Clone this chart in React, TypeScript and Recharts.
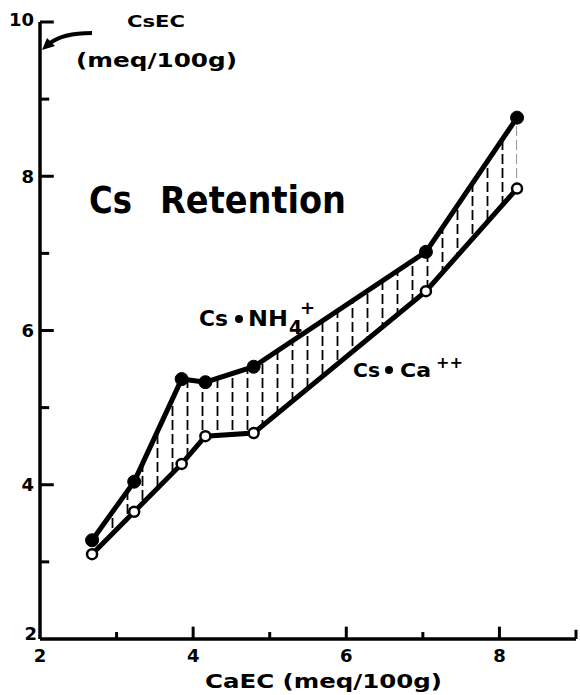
import React from 'react';
import { ComposedChart, Line, Area, XAxis, YAxis, ReferenceLine } from 'recharts';

// CaEC values (meq/100g), shared by both series
const caec = [2.68, 3.23, 3.85, 4.16, 4.79, 7.04, 8.23];
// CsEC with NH4+ as complementary ion (filled dots)
const csNH4 = [3.28, 4.04, 5.37, 5.33, 5.53, 7.02, 8.76];
// CsEC with Ca++ as complementary ion (open dots)
const csCa = [3.1, 3.65, 4.27, 4.63, 4.67, 6.51, 7.84];

const xTicks = [2, 3, 4, 5, 6, 7, 8, 9];
const xLabels = [2, 4, 6, 8];
const yTicks = [2, 3, 4, 5, 6, 7, 8, 9, 10];
const yLabels = [2, 4, 6, 8, 10];

const data = caec.map((x, i) => ({
  x,
  nh4: csNH4[i],
  ca: csCa[i],
  band: [csCa[i], csNH4[i]],
}));

const W = 580;
const H = 695;
const FONT = '"DejaVu Sans", sans-serif';
// inward tick lengths, in axis units (x: ~76 px/unit, y: ~77 px/unit)
const xTickLen = (v: number) => (v % 2 === 0 ? 0.16 : v === 9 ? 0.12 : 0.09);
const yTickLen = (v: number) => (v % 2 === 0 ? 0.18 : 0.12);

const XTick = (props: any) => {
  const { x, payload } = props;
  const v = payload.value;
  if (!xLabels.includes(v)) return <g />;
  return (
    <text x={x} y={662} textAnchor="middle" fontFamily={FONT} fontWeight="bold" fontSize={18} fill="#000">
      {v}
    </text>
  );
};

const YTick = (props: any) => {
  const { y, payload } = props;
  const v = payload.value;
  if (!yLabels.includes(v)) return <g />;
  const dy = v === 2 ? -6 : v === 10 ? -3 : 0;
  return (
    <text x={v === 2 ? 37 : 34} y={y + dy} textAnchor="end" dominantBaseline="central" fontFamily={FONT} fontWeight="bold" fontSize={18} fill="#000">
      {v}
    </text>
  );
};

const txt = { fontFamily: FONT, fontWeight: 'bold', fill: '#000' } as const;

export default function App() {
  return (
    <div style={{ position: 'absolute', left: 0, top: 0, width: W, height: H, background: '#fff' }}>
      <ComposedChart width={W} height={H} data={data} margin={{ top: 22, right: 4, left: 0, bottom: 26 }}>
        <defs>
          <pattern id="hatch" patternUnits="userSpaceOnUse" width={15} height={14}>
            <line x1={7.5} y1={0} x2={7.5} y2={10} stroke="#000" strokeWidth={1.8} />
          </pattern>
        </defs>
        <XAxis
          dataKey="x"
          type="number"
          domain={[2, 9]}
          ticks={xTicks}
          height={30}
          axisLine={{ stroke: '#000', strokeWidth: 3.5 }}
          tickLine={false}
          tick={(p: any) => <XTick {...p} />}
          interval={0}
        />
        <YAxis
          type="number"
          domain={[2, 10]}
          ticks={yTicks}
          width={40}
          axisLine={{ stroke: '#000', strokeWidth: 3.5 }}
          tickLine={false}
          tick={(p: any) => <YTick {...p} />}
          interval={0}
        />
        {xTicks.filter((v) => v > 2).map((v) => (
          <ReferenceLine key={'xt' + v} segment={[{ x: v, y: 2 }, { x: v, y: 2 + xTickLen(v) }]} stroke="#000" strokeWidth={3} ifOverflow="visible" />
        ))}
        {yTicks.filter((v) => v > 2).map((v) => (
          <ReferenceLine key={'yt' + v} segment={[{ x: 2, y: v }, { x: 2 + yTickLen(v), y: v }]} stroke="#000" strokeWidth={3} ifOverflow="visible" />
        ))}
        <Area dataKey="band" type="linear" stroke="none" fill="url(#hatch)" fillOpacity={1} isAnimationActive={false} />
        <Line
          dataKey="ca"
          type="linear"
          stroke="#000"
          strokeWidth={5}
          dot={{ r: 5, fill: '#fff', stroke: '#000', strokeWidth: 2.5 }}
          isAnimationActive={false}
        />
        <Line
          dataKey="nh4"
          type="linear"
          stroke="#000"
          strokeWidth={5}
          dot={{ r: 6.5, fill: '#000', stroke: '#000', strokeWidth: 1 }}
          isAnimationActive={false}
        />
      </ComposedChart>
      <svg width={W} height={H} style={{ position: 'absolute', left: 0, top: 0, pointerEvents: 'none' }}>
        <text x={127} y={27} fontSize={16} textLength={58} lengthAdjust="spacingAndGlyphs" {...txt}>CsEC</text>
        <text x={76} y={67} fontSize={20} textLength={161} lengthAdjust="spacingAndGlyphs" {...txt}>(meq/100g)</text>
        <path d="M92 33 Q62 33 49 44" fill="none" stroke="#000" strokeWidth={4} />
        <polygon points="42,50 47,38 55,46" fill="#000" />
        <text x={89} y={213} fontSize={37} textLength={43} lengthAdjust="spacingAndGlyphs" {...txt}>Cs</text>
        <text x={160} y={213} fontSize={37} textLength={186} lengthAdjust="spacingAndGlyphs" {...txt}>Retention</text>
        <text x={199} y={326} fontSize={21} textLength={29} lengthAdjust="spacingAndGlyphs" {...txt}>Cs</text>
        <circle cx={239} cy={319} r={4} fill="#000" />
        <text x={248} y={326} fontSize={21} textLength={40} lengthAdjust="spacingAndGlyphs" {...txt}>NH</text>
        <text x={289} y={334} fontSize={19} {...txt}>4</text>
        <text x={300} y={314} fontSize={18} {...txt}>+</text>
        <text x={353} y={377} fontSize={20} textLength={27} lengthAdjust="spacingAndGlyphs" {...txt}>Cs</text>
        <circle cx={389} cy={370} r={4} fill="#000" />
        <text x={400} y={377} fontSize={20} textLength={31} lengthAdjust="spacingAndGlyphs" {...txt}>Ca</text>
        <text x={436} y={368} fontSize={16} textLength={27} lengthAdjust="spacingAndGlyphs" {...txt}>++</text>
        <text x={205} y={688} fontSize={20} textLength={237} lengthAdjust="spacingAndGlyphs" {...txt}>CaEC (meq/100g)</text>
      </svg>
    </div>
  );
}
